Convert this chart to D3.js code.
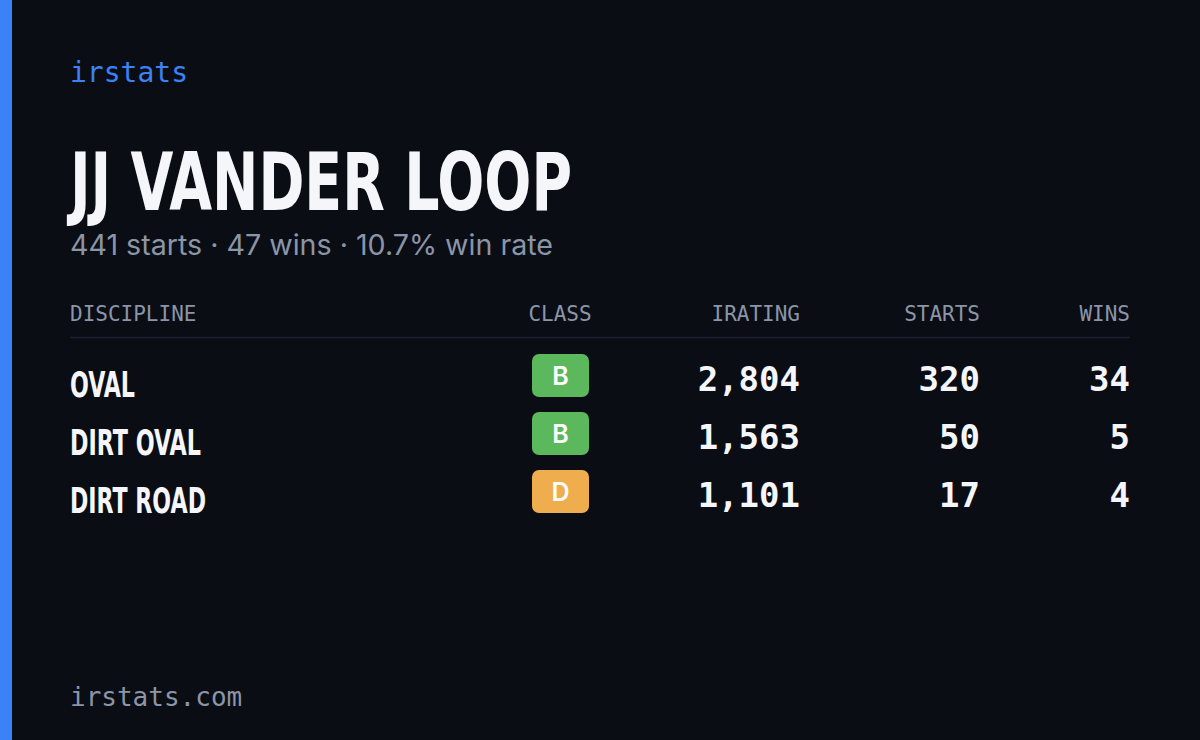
<!DOCTYPE html><html><head><meta charset="utf-8"><script src="https://cdn.jsdelivr.net/npm/d3@7"></script>
<style>body{margin:0;background:#0a0d14}</style></head><body><svg id="c" width="1200" height="740"></svg>
<script>
const disciplines=["OVAL","DIRT OVAL","DIRT ROAD"];
const classes=["B","B","D"];
const iratings=[2804,1563,1101];
const starts=[320,50,17];
const wins=[34,5,4];
const headers=["DISCIPLINE","CLASS","IRATING","STARTS","WINS"];
const career={starts:441,wins:47,winRate:10.7};
const nameWidths=[65,131,136];
const svg=d3.select("#c");
svg.append("rect").attr("width",1200).attr("height",740).attr("fill","#0a0d14");
svg.append("rect").attr("width",12).attr("height",740).attr("fill","#3b82f6");
const mono="'DejaVu Sans Mono','Liberation Mono',monospace";
const cond="'Liberation Sans Narrow','DejaVu Sans Condensed',sans-serif";
svg.append("text").attr("x",70).attr("y",82).attr("fill","#3b82f6").attr("font-family",mono).attr("font-size",28).text("irstats");
svg.append("text").attr("x",70).attr("y",210).attr("fill","#f5f6fa").attr("font-family",cond).attr("font-weight",700).attr("font-size",80).attr("textLength",502).attr("lengthAdjust","spacingAndGlyphs").text("JJ VANDER LOOP");
svg.append("text").attr("x",70).attr("y",255).attr("fill","#8b95a8").attr("font-family","Inter,sans-serif").attr("font-size",28).attr("textLength",483).attr("lengthAdjust","spacingAndGlyphs").text(`${career.starts} starts · ${career.wins} wins · ${career.winRate}% win rate`);
const colX=[70,560,800,980,1130], anchors=["start","middle","end","end","end"];
svg.selectAll(".h").data(headers).enter().append("text").attr("x",(d,i)=>colX[i]).attr("y",321).attr("text-anchor",(d,i)=>anchors[i]).attr("fill","#8b95a8").attr("font-family",mono).attr("font-size",21).text(d=>d);
svg.append("line").attr("x1",70).attr("x2",1130).attr("y1",337.5).attr("y2",337.5).attr("stroke","#1c2130").attr("stroke-width",1.5);
const y=d3.scaleBand().domain(disciplines).range([346,520]);
const col={B:"#5cb85c",D:"#f0ad4e",A:"#3b82f6",C:"#f5d547",R:"#e05252"};
const fmt=d3.format(",");
const g=svg.selectAll(".r").data(disciplines).enter().append("g").attr("transform",d=>`translate(0,${y(d)})`);
g.append("text").attr("x",70).attr("y",51).attr("fill","#f5f6fa").attr("font-family",cond).attr("font-weight",700).attr("font-size",36).attr("textLength",(d,i)=>nameWidths[i]).attr("lengthAdjust","spacingAndGlyphs").text(d=>d);
g.append("rect").attr("x",532).attr("y",8).attr("width",57).attr("height",43).attr("rx",7).attr("fill",(d,i)=>col[classes[i]]);
g.append("text").attr("x",560.5).attr("y",39).attr("text-anchor","middle").attr("fill","#fff").attr("font-family","Inter,sans-serif").attr("font-weight",600).attr("font-size",25).text((d,i)=>classes[i]);
[[iratings,800],[starts,980],[wins,1130]].forEach(([arr,x])=>{
 g.append("text").attr("x",x).attr("y",45).attr("text-anchor","end").attr("fill","#f5f6fa").attr("font-family",mono).attr("font-weight",600).attr("font-size",34).text((d,i)=>fmt(arr[i]));
});
svg.append("text").attr("x",70).attr("y",706).attr("fill","#8b95a8").attr("font-family",mono).attr("font-size",26).text("irstats.com");
</script></body></html>
